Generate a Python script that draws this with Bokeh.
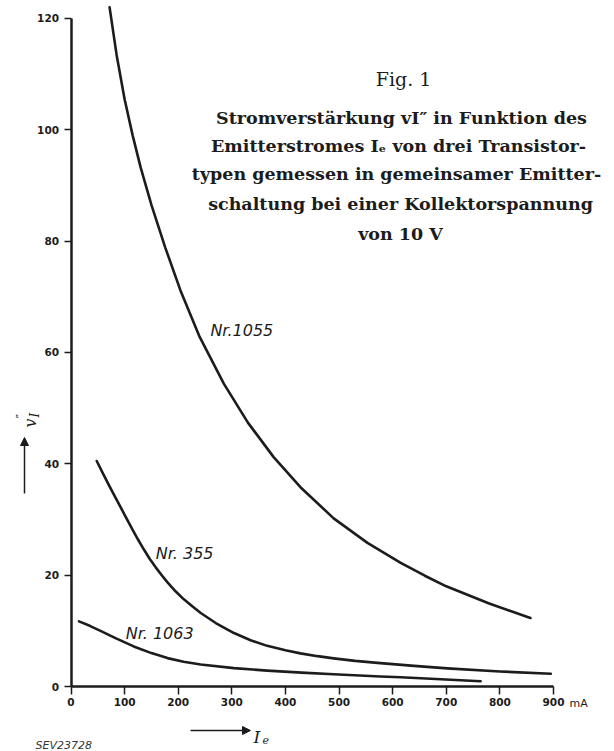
import math
from bokeh.plotting import figure
from bokeh.models import Label, Arrow, NormalHead, Range1d, FixedTicker
from bokeh.core.properties import value
from bokeh.embed import file_html
from bokeh.resources import INLINE

# ---- data ----
ie_1055 = [72, 85, 100, 115, 130, 150, 176, 204, 240, 285, 330, 378, 428, 490, 553, 615, 660, 700, 780, 857]
vi_1055 = [122.0, 113.5, 105.5, 99.0, 93.2, 86.5, 78.8, 71.2, 62.8, 54.4, 47.4, 41.2, 35.8, 30.2, 25.8, 22.2,
           19.9, 18.0, 14.9, 12.3]

ie_355 = [48, 60, 70, 81, 92, 103, 114, 125, 136, 147, 158, 170, 180, 195, 210, 225, 242, 270, 304, 335,
          366, 400, 428, 460, 490, 530, 577, 640, 702, 800, 895]
vi_355 = [40.5, 38.2, 36.3, 34.3, 32.3, 30.3, 28.3, 26.4, 24.6, 22.9, 21.4, 19.9, 18.7, 17.1, 15.7, 14.5,
          13.2, 11.4, 9.6, 8.3, 7.3, 6.5, 5.95, 5.45, 5.05, 4.6, 4.2, 3.7, 3.25, 2.7, 2.3]

ie_1063 = [15, 35, 55, 85, 117, 150, 180, 210, 242, 304, 366, 430, 490, 577, 615, 690, 764]
vi_1063 = [11.7, 10.9, 10.0, 8.6, 7.2, 6.0, 5.1, 4.45, 3.95, 3.3, 2.85, 2.5, 2.2, 1.8, 1.65, 1.3, 0.95]

curve_names = ["Nr.1055", "Nr. 355", "Nr. 1063"]
name_x = [260, 158, 102]
name_y = [64.0, 23.9, 9.5]

x_ticks = [0, 100, 200, 300, 400, 500, 600, 700, 800, 900]
y_ticks = [0, 20, 40, 60, 80, 100, 120]

fig_title = "Fig. 1"
caption_lines = [
    "Stromverstärkung vI″ in Funktion des",
    "Emitterstromes Iₑ von drei Transistor-",
    "typen gemessen in gemeinsamer Emitter-",
    "schaltung bei einer Kollektorspannung",
    "von 10 V",
]
code_text = "SEV23728"

# ---- layout: the frame covers the whole canvas, axes sit at fixed locations ----
W, H = 614, 751
ORIGIN_PX, ORIGIN_PY = 70.5, 686.0      # page position of (0, 0)
FX, FY = 0.5361, 5.567                 # pixels per mA, pixels per unit gain
x0 = -ORIGIN_PX / FX
x1 = x0 + W / FX
y1 = ORIGIN_PY / FY
y0 = y1 - H / FY

def dx(px):
    return x0 + px / FX

def dy(py):
    return y1 - py / FY

p = figure(width=W, height=H, output_backend="svg", toolbar_location=None,
           x_range=Range1d(x0, x1), y_range=Range1d(y0, y1),
           min_border=0, min_border_left=0, min_border_right=0,
           min_border_top=0, min_border_bottom=0)
p.background_fill_color = "white"
p.border_fill_color = "white"
p.outline_line_color = None
p.grid.visible = False

ink = "#1c1c1c"
p.xaxis.fixed_location = 0
p.yaxis.fixed_location = 0
p.xaxis.bounds = (0, 900)
p.yaxis.bounds = (0, 120)
p.xaxis.ticker = FixedTicker(ticks=x_ticks)
p.yaxis.ticker = FixedTicker(ticks=y_ticks)
for ax in (p.xaxis[0], p.yaxis[0]):
    ax.axis_line_width = 2.5
    ax.axis_line_color = ink
    ax.major_tick_line_width = 1.5
    ax.major_tick_line_color = ink
    ax.major_tick_in = 0
    ax.minor_tick_line_color = None
    ax.major_label_text_font = "DejaVu Sans"
    ax.major_label_text_font_style = "bold"
    ax.major_label_text_font_size = "10.5px"
    ax.major_label_text_color = ink
p.xaxis.major_tick_out = 8
p.yaxis.major_tick_out = 7
p.xaxis.major_label_standoff = 3
p.yaxis.major_label_standoff = 5

for xs, ys in ((ie_1055, vi_1055), (ie_355, vi_355), (ie_1063, vi_1063)):
    p.line(xs, ys, line_width=2.6, line_color=ink, line_cap="round", line_join="round")

p.text(x=name_x, y=name_y, text=curve_names, text_font=value("DejaVu Sans"),
       text_font_style="italic", text_font_size="16px", text_baseline="middle",
       text_color=ink)

p.add_layout(Label(x=dx(403), y=dy(78), text=fig_title, text_align="center",
                   text_baseline="middle", text_font="DejaVu Serif",
                   text_font_size="19px", text_color=ink))
line_px = [401, 398, 396, 400, 400]
line_py = [117, 145, 173, 203, 233]
for t, px, py in zip(caption_lines, line_px, line_py):
    p.add_layout(Label(x=dx(px), y=dy(py), text=t, text_align="center",
                       text_baseline="middle", text_font="DejaVu Serif",
                       text_font_style="bold", text_font_size="17.5px",
                       text_color=ink))

# unit after last tick
p.add_layout(Label(x=dx(569), y=dy(703), text="mA", text_align="left",
                   text_baseline="middle", text_font="DejaVu Sans",
                   text_font_size="11px", text_color=ink))

# y axis label with arrow
p.add_layout(Arrow(x_start=dx(24), y_start=dy(493), x_end=dx(24), y_end=dy(437),
                   line_width=1.5, line_color=ink,
                   end=NormalHead(size=8, line_color=ink, fill_color=ink)))
p.add_layout(Label(x=dx(30), y=dy(427), text="v", angle=math.pi / 2,
                   text_align="left", text_baseline="alphabetic",
                   text_font="DejaVu Serif", text_font_style="italic",
                   text_font_size="16px", text_color=ink))
p.add_layout(Label(x=dx(34), y=dy(417), text="I", angle=math.pi / 2,
                   text_align="left", text_baseline="alphabetic",
                   text_font="DejaVu Serif", text_font_style="italic",
                   text_font_size="12px", text_color=ink))
p.add_layout(Label(x=dx(21), y=dy(418), text="″", angle=math.pi / 2,
                   text_align="left", text_baseline="alphabetic",
                   text_font="DejaVu Serif", text_font_size="12px", text_color=ink))

# x axis label with arrow
p.add_layout(Arrow(x_start=dx(190), y_start=dy(730), x_end=dx(250), y_end=dy(730),
                   line_width=1.5, line_color=ink,
                   end=NormalHead(size=8, line_color=ink, fill_color=ink)))
p.add_layout(Label(x=dx(253), y=dy(736), text="I", text_align="left",
                   text_baseline="alphabetic", text_font="DejaVu Serif",
                   text_font_style="italic", text_font_size="17px", text_color=ink))
p.add_layout(Label(x=dx(262), y=dy(739), text="e", text_align="left",
                   text_baseline="alphabetic", text_font="DejaVu Serif",
                   text_font_style="italic", text_font_size="11px", text_color=ink))

p.add_layout(Label(x=dx(35), y=dy(745), text=code_text, text_align="left",
                   text_baseline="middle", text_font="DejaVu Sans",
                   text_font_style="italic", text_font_size="11px", text_color="#333"))

open("out.html", "w").write(file_html(p, INLINE))
